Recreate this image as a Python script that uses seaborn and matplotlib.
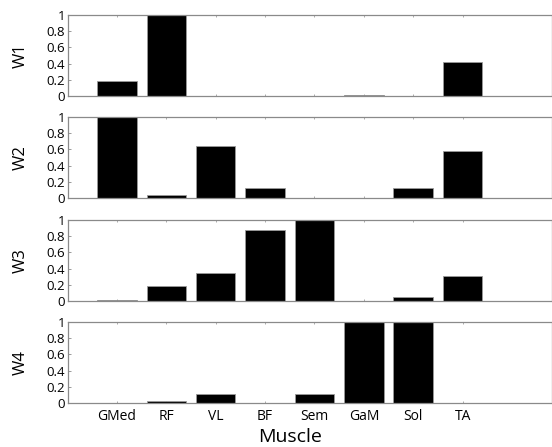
import matplotlib
matplotlib.use("Agg")
import matplotlib.pyplot as plt
import seaborn as sns
import pandas as pd

muscles = ["GMed", "RF", "VL", "BF", "Sem", "GaM", "Sol", "TA"]
w1 = [0.19, 1.00, 0.005, 0.003, 0.0, 0.01, 0.006, 0.415]
w2 = [1.00, 0.037, 0.637, 0.123, 0.005, 0.0, 0.12, 0.575]
w3 = [0.015, 0.18, 0.345, 0.876, 1.00, 0.0, 0.045, 0.31]
w4 = [0.003, 0.02, 0.107, 0.0, 0.11, 1.00, 1.00, 0.005]
synergy_names = ["W1", "W2", "W3", "W4"]
weights = [w1, w2, w3, w4]
yticks = [0, 0.2, 0.4, 0.6, 0.8, 1]
ytick_labels = ["0", "0.2", "0.4", "0.6", "0.8", "1"]

sns.set_theme(style="white")
plt.rcParams["font.family"] = ["Open Sans", "DejaVu Sans"]
plt.rcParams["text.color"] = "black"
plt.rcParams["axes.labelcolor"] = "black"
plt.rcParams["xtick.labelcolor"] = "black"
plt.rcParams["ytick.labelcolor"] = "black"

fig = plt.figure(figsize=(5.52, 4.47), dpi=100)
W, H = 552, 447
left_px, right_px = 68, 552
tops = [15, 117, 220, 322]
height_px = 81

spine_color = "#8a8a8a"
for i, (name, vals) in enumerate(zip(synergy_names, weights)):
    top = tops[i]
    ax = fig.add_axes([left_px / W, 1 - (top + height_px) / H,
                       (right_px - left_px) / W, height_px / H])
    df = pd.DataFrame({"muscle": muscles, "weight": vals})
    sns.barplot(data=df, x="muscle", y="weight", color="black",
                width=0.8, edgecolor="#9a9a9a", linewidth=0.6,
                saturation=1, ax=ax)
    ax.set_xlim(-0.99, 8.81)
    ax.set_ylim(0, 1)
    ax.set_yticks(yticks)
    ax.set_yticklabels(ytick_labels, fontsize=9.5)
    ax.set_ylabel(name, fontsize=12)
    ax.yaxis.set_label_coords(-0.081, 0.5)
    ax.tick_params(axis="y", direction="in", length=2.5, width=0.6,
                   color=spine_color, pad=2, left=True, labelcolor="black")
    ax.tick_params(axis="x", direction="in", length=1.5, width=0.5,
                   color=spine_color, top=True, bottom=True, labelcolor="black")
    for s in ax.spines.values():
        s.set_color(spine_color)
        s.set_linewidth(0.9)
    if i < 3:
        ax.set_xticklabels([])
        ax.set_xlabel("")
    else:
        ax.set_xticks(range(len(muscles)))
        ax.set_xticklabels(muscles, fontsize=10)
        ax.tick_params(axis="x", pad=4)
        ax.set_xlabel("Muscle", fontsize=14)
        ax.xaxis.set_label_coords(0.459, -0.31)

fig.savefig("out.png", dpi=100)
